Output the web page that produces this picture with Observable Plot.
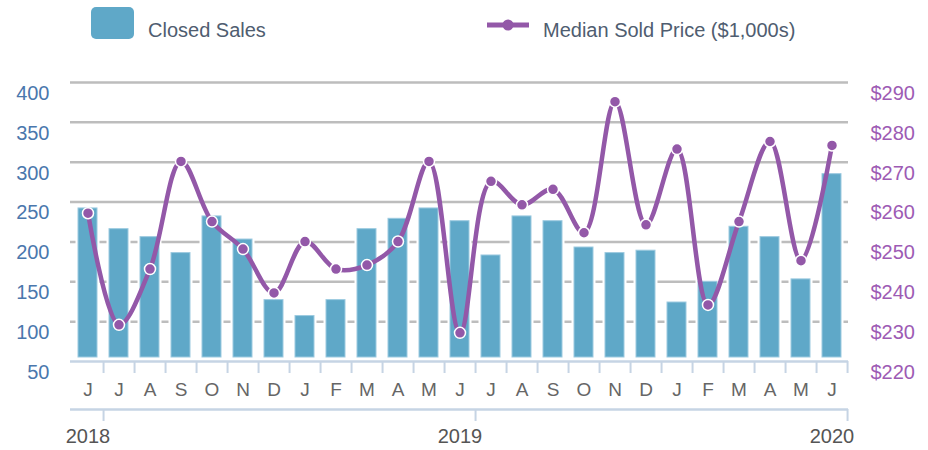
<!DOCTYPE html>
<html>
<head>
<meta charset="utf-8">
<script src="https://cdn.jsdelivr.net/npm/d3@7"></script>
<script src="https://cdn.jsdelivr.net/npm/@observablehq/plot@0.6"></script>
<style>
  html, body { margin: 0; padding: 0; background: #fff; }
  body { width: 928px; height: 450px; overflow: hidden; font-family: "Liberation Sans", Arial, sans-serif; }
  #legend { position: relative; height: 60px; width: 928px; }
  #legend > * { position: absolute; }
  .lg-text { color: #4f5d70; font-size: 20px; line-height: 24px; white-space: nowrap; }
  #chart svg { overflow: visible; display: block; }
</style>
</head>
<body>
<div id="legend">
  <svg style="left:91px; top:7px;" width="43" height="32"><rect x="0" y="0" width="43" height="32" rx="5" fill="#5fa8c8"/></svg>
  <span class="lg-text" style="left:148px; top:18px;">Closed Sales</span>
  <svg style="left:487px; top:15px;" width="42" height="20"><line x1="0" x2="42" y1="10" y2="10" stroke="#9358a8" stroke-width="5"/><circle cx="21" cy="10" r="5.5" fill="#9358a8"/></svg>
  <span class="lg-text" style="left:543px; top:18px;">Median Sold Price ($1,000s)</span>
</div>
<div id="chart"></div>
<script>
// ---- data ----
const months = ["Jun 2018","Jul 2018","Aug 2018","Sep 2018","Oct 2018","Nov 2018","Dec 2018",
  "Jan 2019","Feb 2019","Mar 2019","Apr 2019","May 2019","Jun 2019","Jul 2019","Aug 2019","Sep 2019",
  "Oct 2019","Nov 2019","Dec 2019","Jan 2020","Feb 2020","Mar 2020","Apr 2020","May 2020","Jun 2020"];
const monthLetters = ["J","J","A","S","O","N","D","J","F","M","A","M","J","J","A","S","O","N","D","J","F","M","A","M","J"];
const closedSales = [242,216,206,186,232,203,127,107,127,216,229,242,226,183,232,226,193,186,189,124,150,219,206,153,285];
const medianPrice = [257.2,229.2,243.2,270.2,255.1,248.2,237.2,250.1,243.2,244.2,250.1,270.2,227.2,
  265.2,259.3,263.2,252.3,285.2,254.3,273.3,234.2,255.1,275.2,245.3,274.2];
const salesTicks = [50,100,150,200,250,300,350,400];
const priceTicks = [220,230,240,250,260,270,280,290];
const yearMonths = ["Jun 2018","Jun 2019","Jun 2020"];
const yearLabels = ["2018","2019","2020"];

// ---- layout ----
const W = 928, H = 390;
const mL = 70, mR = 80, mT = 22, mB = 89;
const step = (W - mL - mR) / months.length;

// map price axis onto the sales axis (dual axis): $220 ↔ 50, $290 ↔ 400
const pLo = priceTicks[0], pHi = priceTicks[priceTicks.length - 1];
const sLo = salesTicks[0], sHi = salesTicks[salesTicks.length - 1];
const priceToY = p => sLo + (p - pLo) * (sHi - sLo) / (pHi - pLo);

const table = months.map((m, i) => ({month: m, letter: monthLetters[i], sales: closedSales[i], price: medianPrice[i], py: priceToY(medianPrice[i])}));
const letterOf = new Map(months.map((m, i) => [m, monthLetters[i]]));
const priceOfTick = new Map(priceTicks.map(p => [priceToY(p), p]));
const years = yearMonths.map((m, i) => ({month: m, label: yearLabels[i]}));

const axisBlue = "#c6d4e4";
const purple = "#9358a8";

const chart = Plot.plot({
  width: W, height: H,
  marginTop: mT, marginBottom: mB, marginLeft: mL, marginRight: mR,
  x: {type: "band", domain: months, paddingInner: 0.4, paddingOuter: 0.2, axis: null, label: null},
  y: {domain: [sLo, sHi], axis: null, label: null},
  style: {fontFamily: "'Liberation Sans', Arial, sans-serif", background: "transparent", overflow: "visible"},
  marks: [
    Plot.ruleY(salesTicks.slice(1), {stroke: "#bdbdbd", strokeWidth: 2.5}),
    Plot.barY(table, {x: "month", y1: sLo, y2: "sales", fill: "white", stroke: "white", strokeWidth: 5, insetBottom: 4}),
    Plot.barY(table, {x: "month", y1: sLo, y2: "sales", fill: "#5fa8c8", stroke: "#9ccae0", strokeWidth: 1, insetBottom: 4}),
    Plot.ruleY([sLo], {stroke: axisBlue, strokeWidth: 2.5}),
    // month boundary ticks
    Plot.axisX({tickSize: 12, tickFormat: () => "", label: null, dx: step / 2, stroke: axisBlue, strokeWidth: 2}),
    // month letters
    Plot.axisX({tickSize: 0, tickPadding: 21, label: null, tickFormat: d => letterOf.get(d), fontSize: 19, color: "#666"}),
    // year row
    Plot.ruleY([sLo], {dy: 48, stroke: axisBlue, strokeWidth: 2.5}),
    Plot.axisX({ticks: yearMonths, tickSize: 12, dy: 48, dx: step / 2, label: null, tickFormat: () => "", stroke: axisBlue, strokeWidth: 2}),
    Plot.text(years, {x: "month", text: "label", frameAnchor: "bottom", dy: 81, dx: 0, fontSize: 20, fill: "#555"}),
    // left axis
    Plot.axisY({anchor: "left", ticks: salesTicks, tickSize: 0, tickPadding: 21, dy: 11, label: null, fontSize: 20, color: "#4a77ad"}),
    // right axis (price)
    Plot.axisY({anchor: "right", ticks: priceTicks.map(priceToY), tickSize: 0, tickPadding: 22, dy: 11, label: null, fontSize: 20, color: "#9d5bb4",
      tickFormat: v => "$" + priceOfTick.get(v)}),
    // price line
    Plot.line(table, {x: "month", y: "py", stroke: purple, strokeWidth: 4.5, curve: "catmull-rom"}),
    Plot.dot(table, {x: "month", y: "py", r: 5.5, fill: purple, stroke: "white", strokeWidth: 1.5})
  ]
});
document.getElementById("chart").appendChild(chart);
</script>
</body>
</html>
